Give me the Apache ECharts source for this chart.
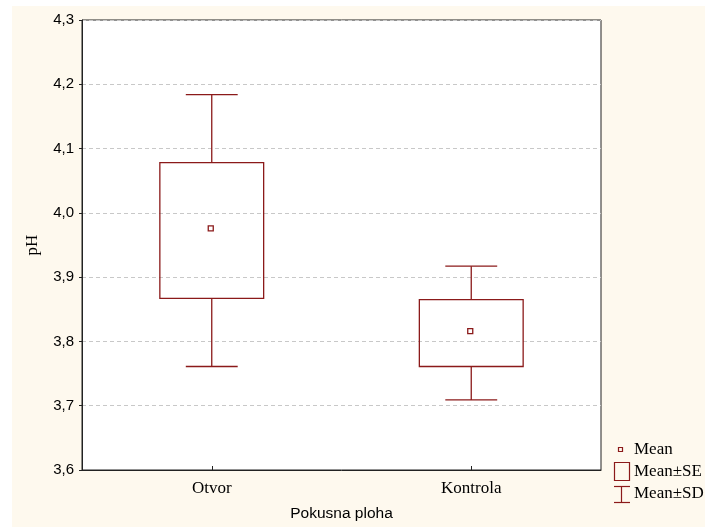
<!DOCTYPE html>
<html><head><meta charset="utf-8">
<script src="https://cdn.jsdelivr.net/npm/echarts@6/dist/echarts.min.js"></script>
<style>
html,body{margin:0;padding:0;background:#ffffff;width:705px;height:527px;overflow:hidden;}
#c{position:absolute;left:12px;top:6px;width:693px;height:521px;background:#fef9ee;}
</style></head><body>
<div id="c"></div>
<script>
// ---- data ----
const categories = ['Otvor', 'Kontrola'];
const means  = [3.976, 3.816];
const seLow  = [3.867, 3.761];
const seHigh = [4.078, 3.865];
const sdLow  = [3.761, 3.709];
const sdHigh = [4.184, 3.917];
const yTicks = [3.6, 3.7, 3.8, 3.9, 4.0, 4.1, 4.2, 4.3];
const legendLabels = ['Mean', 'Mean±SE', 'Mean±SD'];

const OX = 12, OY = 6;
const RED = '#8b1a1a';
const chart = echarts.init(document.getElementById('c'));

const rows = categories.map((c, i) => [i, means[i], seLow[i], seHigh[i], sdLow[i], sdHigh[i]]);

function renderItem(params, api) {
  const i = api.value(0);
  const band = api.size([1, 0])[0];
  const bw = band * 0.4, cw = band * 0.2;
  const pMean = api.coord([i, api.value(1)]);
  const pSeL = api.coord([i, api.value(2)]);
  const pSeH = api.coord([i, api.value(3)]);
  const pSdL = api.coord([i, api.value(4)]);
  const pSdH = api.coord([i, api.value(5)]);
  const x = pMean[0];
  const st = {stroke: RED, lineWidth: 1.3, fill: null};
  return {
    type: 'group',
    children: [
      {type: 'line', shape: {x1: x, y1: pSdH[1], x2: x, y2: pSeH[1]}, style: st},
      {type: 'line', shape: {x1: x, y1: pSeL[1], x2: x, y2: pSdL[1]}, style: st},
      {type: 'line', shape: {x1: x - cw/2, y1: pSdH[1], x2: x + cw/2, y2: pSdH[1]}, style: st},
      {type: 'line', shape: {x1: x - cw/2, y1: pSdL[1], x2: x + cw/2, y2: pSdL[1]}, style: st},
      {type: 'rect', shape: {x: x - bw/2, y: pSeH[1], width: bw, height: pSeL[1] - pSeH[1]}, style: {stroke: RED, lineWidth: 1.3, fill: 'none'}},
      {type: 'rect', shape: {x: x - 3.5, y: pMean[1] - 2.5, width: 5, height: 5}, style: {stroke: RED, lineWidth: 1.3, fill: 'none'}}
    ]
  };
}

const serif = '"Liberation Serif", "Times New Roman", serif';
const sans = '"Liberation Sans", Arial, sans-serif';

// legend graphics (absolute page coords minus offsets)
const lg = [];
lg.push({type: 'rect', shape: {x: 618.5 - OX, y: 447.5 - OY, width: 4, height: 4}, style: {stroke: RED, lineWidth: 1.2, fill: 'none'}});
lg.push({type: 'rect', shape: {x: 614.5 - OX, y: 462.5 - OY, width: 15, height: 18}, style: {stroke: RED, lineWidth: 1.2, fill: 'none'}});
lg.push({type: 'line', shape: {x1: 614 - OX, y1: 486.5 - OY, x2: 630 - OX, y2: 486.5 - OY}, style: {stroke: RED, lineWidth: 1.2}});
lg.push({type: 'line', shape: {x1: 614 - OX, y1: 502.5 - OY, x2: 630 - OX, y2: 502.5 - OY}, style: {stroke: RED, lineWidth: 1.2}});
lg.push({type: 'line', shape: {x1: 621.5 - OX, y1: 486.5 - OY, x2: 621.5 - OX, y2: 502.5 - OY}, style: {stroke: RED, lineWidth: 1.2}});
const ly = [450, 471.5, 494];
legendLabels.forEach((t, k) => {
  lg.push({type: 'text', x: 634 - OX, y: ly[k] - OY, style: {text: t, font: '17px ' + serif, fill: '#000', textVerticalAlign: 'middle', textAlign: 'left'}});
});

chart.setOption({
  animation: false,
  backgroundColor: 'transparent',
  grid: {left: 82 - OX, top: 20 - OY, width: 519, height: 453, show: true, backgroundColor: '#ffffff', borderColor: '#222', borderWidth: 1},
  xAxis: {
    type: 'category', data: categories, boundaryGap: true,
    axisLine: {lineStyle: {color: '#222', width: 1}},
    axisTick: {show: true, inside: true, alignWithLabel: true, length: 4, lineStyle: {color: '#222'}},
    axisLabel: {fontFamily: serif, fontSize: 17, color: '#000', margin: 10},
    splitLine: {show: false},
    name: 'Pokusna ploha', nameLocation: 'middle', nameGap: 36,
    nameTextStyle: {fontFamily: sans, fontSize: 15.5, color: '#000'}
  },
  yAxis: {
    type: 'value', min: yTicks[0], max: yTicks[yTicks.length - 1], interval: 0.1,
    axisLine: {show: true, lineStyle: {color: '#222', width: 1}},
    axisTick: {show: true, inside: false, length: 3, lineStyle: {color: '#222'}},
    axisLabel: {fontFamily: sans, fontSize: 15, color: '#000', margin: 8,
      formatter: v => (Math.round(v * 10) / 10).toFixed(1).replace('.', ',')},
    splitLine: {show: true, lineStyle: {color: '#c8c8c8', type: [4, 3], width: 1}},
    name: 'pH', nameLocation: 'middle', nameGap: 41, nameRotate: 90,
    nameTextStyle: {fontFamily: serif, fontSize: 17, color: '#000'}
  },
  series: [{
    type: 'custom', renderItem: renderItem, data: rows,
    encode: {x: 0, y: [1, 2, 3, 4, 5]}, clip: false
  }],
  graphic: lg
});
</script>
</body></html>
